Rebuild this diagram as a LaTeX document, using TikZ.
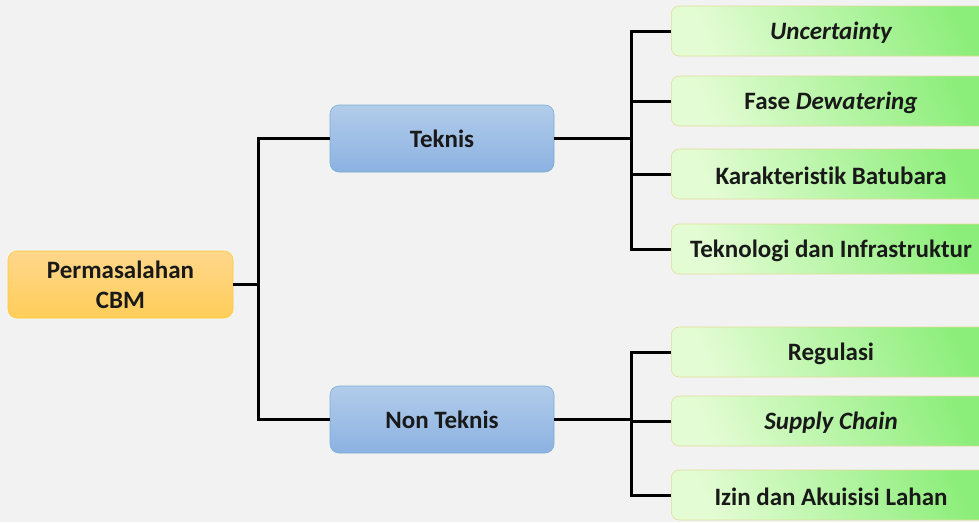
\documentclass[tikz,border=0pt]{standalone}
\usepackage{fontspec}
\setmainfont{Carlito}[Ligatures=NoCommon]
\begin{document}
\begin{tikzpicture}[x=1pt,y=-1pt,
  txt/.style={font=\bfseries\fontsize{25}{30}\selectfont, text=black!90},
  conn/.style={line width=3pt,black},
  root/.style={txt, draw=orange!50!yellow!80, line width=0.6pt, rounded corners=9pt, top color=yellow!30!orange!45, bottom color=yellow!40!orange!65, minimum width=225pt, minimum height=67pt, align=center, inner sep=0pt},
  mid/.style={txt, draw=blue!40!cyan!50!gray!70, line width=0.6pt, rounded corners=9pt, top color={rgb,255:red,178;green,204;blue,234}, bottom color={rgb,255:red,140;green,178;blue,226}, minimum width=224pt, minimum height=67pt},
  leaf/.style={draw={rgb,255:red,225;green,220;blue,150}, line width=0.6pt, rounded corners=8pt, left color={rgb,255:red,228;green,252;blue,212}, right color={rgb,255:red,140;green,238;blue,122}, shading angle=115, minimum width=322pt, minimum height=50pt, anchor=west}
]
\useasboundingbox (0,0) rectangle (979,522);
\fill[black!5] (0,0) rectangle (979,522);
\begin{scope}
\clip (0,0) rectangle (979,522);
\node[root] (r) at (120.5,284.5) {Permasalahan\\CBM};
\node[mid] (t) at (442,138.5) {Teknis};
\node[mid] (n) at (442,419.5) {Non Teknis};
\node[leaf] (l1) at (671,31) {};
\node[leaf] (l2) at (671,101) {};
\node[leaf] (l3) at (671,174) {};
\node[leaf] (l4) at (671,249) {};
\node[leaf] (l5) at (671,352) {};
\node[leaf] (l6) at (671,421) {};
\node[leaf] (l7) at (671,495) {};
\end{scope}
\node[txt] at (831,32.5) {\itshape Uncertainty};
\node[txt] at (831,102.5) {Fase \textit{Dewatering}};
\node[txt] at (831,175.5) {Karakteristik Batubara};
\node[txt] at (831,250.5) {Teknologi dan Infrastruktur};
\node[txt] at (831,353.5) {Regulasi};
\node[txt] at (831,422.5) {\itshape Supply Chain};
\node[txt] at (831,496.5) {Izin dan Akuisisi Lahan};
\coordinate (a) at ([xshift=25pt]r.east);
\coordinate (b) at ([xshift=77pt]t.east);
\coordinate (c) at ([xshift=77pt]n.east);
\draw[conn] (r.east) -- (a);
\draw[conn] (t.west) -| (a) |- (n.west);
\draw[conn] (t.east) -- (b);
\draw[conn] (n.east) -- (c);
\draw[conn] (l1.west) -| (b) |- (l4.west);
\draw[conn] (l2.west) -- (l2.west -| b);
\draw[conn] (l3.west) -- (l3.west -| b);
\draw[conn] (l5.west) -| (c) |- (l7.west);
\draw[conn] (l6.west) -- (l6.west -| c);
\end{tikzpicture}
\end{document}
